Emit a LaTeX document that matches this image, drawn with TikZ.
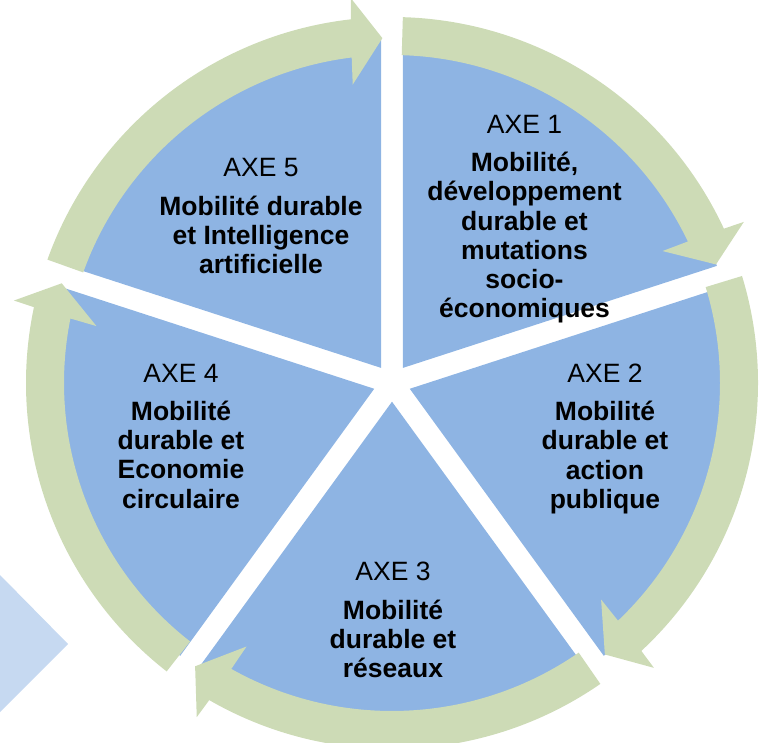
\documentclass[tikz,border=0pt]{standalone}
\usepackage{fontspec}
\setmainfont{Liberation Sans}
\usetikzlibrary{calc}
\definecolor{secblue}{HTML}{8EB4E3}
\definecolor{ringgreen}{HTML}{CDDBB6}
\definecolor{chevblue}{HTML}{C6D9F1}
\newcommand\sectorpath[3]{%
  \fill[sector] ($(C)+(#3:18.7)$) -- ++(#1:330) arc[start angle=#1, end angle=#2, radius=330] -- cycle;}
\newcommand\ringarrowpath[2]{%
  \fill[ringarrow] ($(C)+(#1:328)$) -- ($(C)+(#1:366)$)
    arc[start angle=#1, end angle={#2+4.84}, radius=366]
    -- ($(C)+({#2+4.5}:387)$) -- ($(C)+(#2:345)$) -- ($(C)+({#2+5.9}:301)$)
    -- ($(C)+({#2+5.46}:328)$)
    arc[start angle={#2+5.46}, end angle=#1, radius=328] -- cycle;}
\begin{document}
\begin{tikzpicture}[x=1pt,y=1pt,
  sector/.style={fill=secblue, draw=none},
  ringarrow/.style={fill=ringgreen, draw=none},
  axelabel/.style={align=center, inner sep=0pt, font=\fontsize{26.5}{29.2}\selectfont, anchor=north}]
\useasboundingbox (0,0) rectangle (760,742);
\clip (0,0) rectangle (760,742);
\coordinate (C) at (392,359);
% chevron
\fill[chevblue] (0,167) -- (68,98) -- (0,30) -- cycle;
% sectors
\sectorpath{18}{90}{54}
\sectorpath{-54}{18}{-18}
\sectorpath{-126}{-54}{-90}
\sectorpath{162}{234}{198}
\sectorpath{90}{162}{126}
% ring arrows
\ringarrowpath{88.3}{20.1}
\ringarrowpath{17.0}{-51.9}
\ringarrowpath{-55.3}{-124.8}
\ringarrowpath{-128}{-196.8}
\ringarrowpath{160.3}{91.6}
% labels
\node[axelabel] (ax1) at (524.5,627) {AXE 1\\[9.1pt]\textbf{Mobilité,}\\\textbf{développement}\\\textbf{durable et}\\\textbf{mutations}\\\textbf{socio-}\\\textbf{économiques}};
\node[axelabel] (ax2) at (605,378.3) {AXE 2\\[9.1pt]\textbf{Mobilité}\\\textbf{durable et}\\\textbf{action}\\\textbf{publique}};
\node[axelabel] (ax3) at (393,179.8) {AXE 3\\[9.1pt]\textbf{Mobilité}\\\textbf{durable et}\\\textbf{réseaux}};
\node[axelabel] (ax4) at (181,378.3) {AXE 4\\[9.1pt]\textbf{Mobilité}\\\textbf{durable et}\\\textbf{Economie}\\\textbf{circulaire}};
\node[axelabel] (ax5) at (261,583.7) {AXE 5\\[9.1pt]\textbf{Mobilité durable}\\\textbf{et Intelligence}\\\textbf{artificielle}};
\end{tikzpicture}
\end{document}
